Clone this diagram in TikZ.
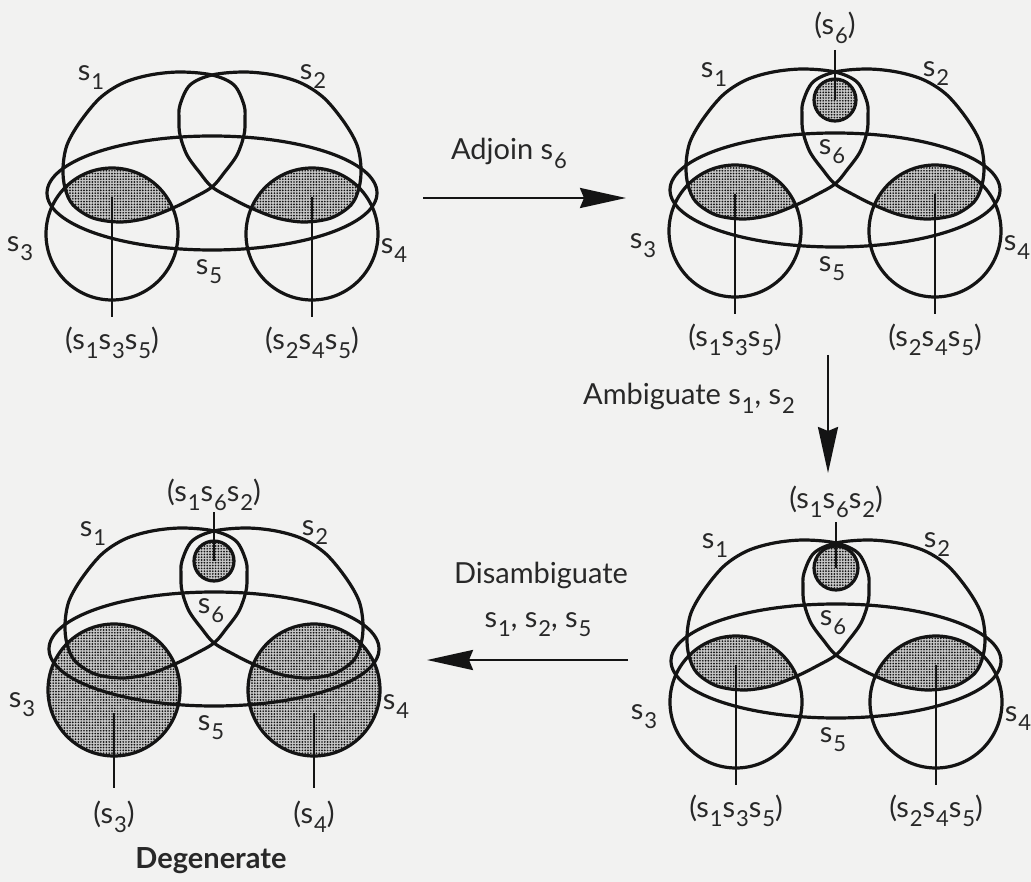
\documentclass[tikz,border=0pt]{standalone}
\usepackage{fontspec}
\setmainfont{Lato}
\usetikzlibrary{arrows.meta,patterns.meta}
\definecolor{bg}{RGB}{242,242,241}
\definecolor{ink}{RGB}{20,20,20}
\definecolor{txt}{RGB}{40,40,40}
\newcommand{\sv}[1]{s\kern0.03em\raisebox{-9pt}{\fontsize{22}{22}\selectfont #1}}
\tikzset{
  curve/.style={line width=3.2pt, draw=ink},
  leader/.style={line width=2.1pt, draw=ink},
  arr/.style={line width=2.6pt, draw=ink, -{Stealth[length=46pt,width=20pt,inset=4pt]}},
  dotfill/.style={pattern={Dots[distance=2.8pt,radius=0.95pt]}, pattern color=ink},
  greyfill/.style={fill=black!22},
  lbl/.style={font=\fontsize{29}{34}\selectfont, text=txt, inner sep=0pt},
  sone/.style={insert path={plot[smooth cycle,tension=0.55] coordinates {
    (0,0) (-32,-3) (-62,0) (-89,8) (-112,23) (-132,47) (-145,70) (-149,93)
    (-147,113) (-139,130) (-119,143) (-92,147) (-65,143) (-39,133) (-19,123)
    (0,112) (12,98) (25,80) (32,60) (33,45) (32,30) (22,10)}}},
  sfive/.style={insert path={(0,118) ellipse[x radius=165pt,y radius=57pt]}},
  sthree/.style={insert path={(-100,159) circle[radius=66pt]}},
  sfour/.style={insert path={(100,159) circle[radius=66pt]}},
}
\newcommand{\panelcurves}{%
  \draw[curve,sone];
  \draw[curve,xscale=-1,sone];
  \draw[curve,sfive];
  \draw[curve,sthree];
  \draw[curve,sfour];
}
\newcommand{\lensshade}{%
  \begin{scope}
    \path[clip,sone]; \path[clip,sthree];
    \path[greyfill,sfive]; \path[dotfill,sfive];
  \end{scope}
  \begin{scope}
    \path[clip,xscale=-1,sone]; \path[clip,sfour];
    \path[greyfill,sfive]; \path[dotfill,sfive];
  \end{scope}
}
% #1 prefix
\newcommand{\setlabels}[1]{%
  \node[lbl] (#1s1) at (-121,3) {\sv1};
  \node[lbl] (#1s2) at (101,2) {\sv2};
  \node[lbl] (#1s3) at (-192,174) {\sv3};
  \node[lbl] (#1s4) at (182,176) {\sv4};
  \node[lbl] (#1s5) at (-3,197) {\sv5};
}
\newcommand{\bottomlabels}[1]{%
  \coordinate (#1la) at (-100,122);
  \coordinate (#1lb) at (-100,242);
  \coordinate (#1ra) at (100,122);
  \coordinate (#1rb) at (100,242);
  \draw[leader] (#1la) -- (#1lb);
  \draw[leader] (#1ra) -- (#1rb);
  \node[lbl] (#1ll) at (-100,268) {(\sv1\sv3\sv5)};
  \node[lbl] (#1rl) at (100,268) {(\sv2\sv4\sv5)};
}
% #1 prefix, #2 centre y, #3 radius, #4 line top y, #5 label y, #6 label text
\newcommand{\sixpart}[6]{%
  \coordinate (#1c6) at (0,#2);
  \path[greyfill] (#1c6) circle[radius=#3pt];
  \path[dotfill] (#1c6) circle[radius=#3pt];
  \draw[curve] (#1c6) circle[radius=#3pt];
  \coordinate (#1t6) at (0,#4);
  \draw[leader] (#1t6) -- (#1c6);
  \node[lbl] (#1top) at (0,#5) {#6};
  \node[lbl] (#1s6) at (-3,80) {\sv6};
}
\begin{document}
\begin{tikzpicture}[x=1pt,y=-1pt]
\fill[bg] (0,0) rectangle (1031,882);
\useasboundingbox (0,0) rectangle (1031,882);

% Panel 1
\begin{scope}[shift={(212,75)}]
  \lensshade
  \panelcurves
  \setlabels{pa}
  \bottomlabels{pa}
\end{scope}

% Panel 2
\begin{scope}[shift={(835,72)}]
  \lensshade
  \panelcurves
  \sixpart{pb}{28}{21}{-22}{-44}{(\sv6)}
  \setlabels{pb}
  \bottomlabels{pb}
\end{scope}

% Panel 3
\begin{scope}[shift={(836,543)}]
  \lensshade
  \panelcurves
  \sixpart{pc}{25}{22}{-21}{-41}{(\sv1\sv6\sv2)}
  \setlabels{pc}
  \bottomlabels{pc}
\end{scope}

% Panel 4
\begin{scope}[shift={(214,531)}]
  \path[greyfill,sthree]; \path[dotfill,sthree];
  \path[greyfill,sfour]; \path[dotfill,sfour];
  \panelcurves
  \sixpart{pd}{30}{20}{-19}{-36}{(\sv1\sv6\sv2)}
  \setlabels{pd}
  \coordinate (pdla) at (-100,182);
  \coordinate (pdlb) at (-100,257);
  \coordinate (pdra) at (100,182);
  \coordinate (pdrb) at (100,257);
  \draw[leader] (pdla) -- (pdlb);
  \draw[leader] (pdra) -- (pdrb);
  \node[lbl] (pdll) at (-100,286) {(\sv3)};
  \node[lbl] (pdrl) at (100,286) {(\sv4)};
  \node[lbl, font=\fontsize{29}{34}\selectfont\bfseries] (pddeg) at (-3,330) {Degenerate};
\end{scope}

% Arrows
\coordinate (a1s) at (423,198);
\coordinate (a1e) at (626,198);
\draw[arr] (a1s) -- (a1e);
\node[lbl] (a1l) at (509,153) {Adjoin \sv6};

\coordinate (a2s) at (828,355);
\coordinate (a2e) at (828,473);
\draw[arr] (a2s) -- (a2e);
\node[lbl] (a2l) at (689,398) {Ambiguate \sv1, \sv2};

\coordinate (a3s) at (628,660);
\coordinate (a3e) at (427,660);
\draw[arr] (a3s) -- (a3e);
\node[lbl] (a3l) at (541,575) {Disambiguate};
\node[lbl] (a3m) at (538,625) {\sv1, \sv2, \sv5};
\end{tikzpicture}
\end{document}
